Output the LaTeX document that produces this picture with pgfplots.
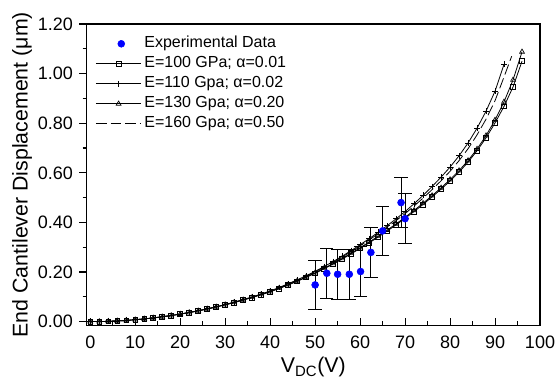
\documentclass[border=0pt]{standalone}
\usepackage{fontspec}
\setmainfont{Liberation Sans}
\usepackage{pgfplots}
\usepackage{pgfplotstable}
\pgfplotsset{compat=1.18}

\pgfplotstableread{
V S T
0 0 0
2 0.0003 0.0003
4 0.0012 0.0012
6 0.0027 0.0027
8 0.0048 0.0048
10 0.0075 0.0076
12 0.0108 0.0109
14 0.0147 0.0148
16 0.0192 0.0194
18 0.0243 0.0245
20 0.0300 0.0303
22 0.0363 0.0367
24 0.0432 0.0436
26 0.0507 0.0512
28 0.0588 0.0594
30 0.0675 0.0682
32 0.0768 0.0776
34 0.0867 0.0876
36 0.0972 0.0982
38 0.1083 0.1094
40 0.1200 0.1212
42 0.1334 0.1347
44 0.1475 0.1490
46 0.1625 0.1641
48 0.1783 0.1801
50 0.1950 0.1970
52 0.2131 0.2152
54 0.2321 0.2344
56 0.2521 0.2546
58 0.2732 0.2759
60 0.2952 0.2982
62 0.3175 0.3207
64 0.3408 0.3442
66 0.3650 0.3687
68 0.3903 0.3942
70 0.4165 0.4207
72 0.4440 0.4484
74 0.4725 0.4772
76 0.5030 0.5080
78 0.5340 0.5393
80 0.5670 0.5727
82 0.6030 0.6090
84 0.6430 0.6494
86 0.6890 0.6959
88 0.7410 0.7499
90 0.8010 0.8130
92 0.8680 0.8862
94 0.9460 0.9744
96 1.0500 1.0878
}\tabST

\pgfplotstableread{
V P
0 0
2 0.0003
4 0.0012
6 0.0028
8 0.0049
10 0.0077
12 0.0110
14 0.0150
16 0.0196
18 0.0248
20 0.0306
22 0.0370
24 0.0441
26 0.0517
28 0.0600
30 0.0689
32 0.0785
34 0.0888
36 0.0997
38 0.1113
40 0.1236
42 0.1377
44 0.1525
46 0.1684
48 0.1851
50 0.2028
52 0.2221
54 0.2423
56 0.2637
58 0.2863
60 0.3100
62 0.3343
64 0.3599
66 0.3865
68 0.4145
70 0.4436
72 0.4755
74 0.5089
76 0.5447
78 0.5826
80 0.6231
82 0.6687
84 0.7202
86 0.7799
88 0.8484
90 0.9292
92 1.0373
}\tabP

\pgfplotstableread{
V D
0 0
2 0.0003
4 0.0012
6 0.0027
8 0.0049
10 0.0076
12 0.0110
14 0.0149
16 0.0195
18 0.0246
20 0.0304
22 0.0368
24 0.0438
26 0.0514
28 0.0596
30 0.0685
32 0.0780
34 0.0882
36 0.0990
38 0.1104
40 0.1225
42 0.1364
44 0.1510
46 0.1666
48 0.1830
50 0.2005
52 0.2194
54 0.2392
56 0.2602
58 0.2824
60 0.3055
62 0.3293
64 0.3542
66 0.3801
68 0.4072
70 0.4355
72 0.4661
74 0.4980
76 0.5322
78 0.5679
80 0.6061
82 0.6491
84 0.6970
86 0.7529
88 0.8162
90 0.8907
92 0.9865
93.7 1.0700
}\tabD

\pgfplotstableread{
V Y E
50 0.148 0.10
52.6 0.195 0.10
55.0 0.191 0.10
57.6 0.191 0.10
60.1 0.202 0.10
62.4 0.279 0.10
65.0 0.366 0.10
69.1 0.480 0.10
70.0 0.415 0.10
}\tabE

\begin{document}
\begin{tikzpicture}
\begin{axis}[
  scale only axis, width=340pt, height=226pt,
  xmin=-0.8, xmax=100, ymin=-0.015, ymax=1.2,
  xtick={0,10,20,30,40,50,60,70,80,90,100}, minor x tick num=1,
  ytick={0,0.2,0.4,0.6,0.8,1.0,1.2}, minor y tick num=1,
  xtick pos=bottom, ytick pos=left,
  tick align=inside,
  major tick length=5.5pt, minor tick length=3pt,
  every major y tick/.append style={xshift=-5.5pt},
  every minor y tick/.append style={xshift=-3pt},
  tick style={black, line width=0.8pt},
  axis line style={line width=0.9pt},
  /pgf/number format/assume math mode=true,
  tick label style={font=\fontsize{13.5}{16}\selectfont},
  yticklabel style={/pgf/number format/.cd, fixed, fixed zerofill, precision=2, /tikz/.cd, xshift=-6.75pt},
  xticklabel style={yshift=-4.2pt},
  xlabel={V\textsubscript{DC}(V)},
  ylabel={End Cantilever Displacement (μm)},
  label style={font=\fontsize{16}{19}\selectfont},
  xlabel style={at={(axis description cs:0.5,-0.139)}, anchor=center},
  ylabel style={at={(axis description cs:-0.1426,0.5)}, anchor=center},
  legend style={draw=none, fill=none, inner sep=0pt,
    at={(axis description cs:0.019,0.964)}, anchor=north west,
    font=\fontsize{12}{14}\selectfont, row sep=2pt,
    nodes={inner xsep=2pt, inner ysep=0.5pt, text height=9pt, text depth=3pt}},
  legend cell align=left,
  legend image code/.code={\draw[mark repeat=2,mark phase=2] plot coordinates {(0pt,0pt)(17pt,0pt)(34pt,0pt)};},
]
\addlegendimage{only marks, mark=*, blue, mark size=2.6pt,
  legend image code/.code={\draw plot coordinates {(19pt,0pt)};}}
\addlegendentry{Experimental Data}

\addplot[black, line width=0.6pt, mark=square, mark size=1.8pt, mark options={solid, fill=white, line width=0.5pt}]
  table[x=V, y=S] {\tabST};
\addlegendentry{E=100 GPa; α=0.01}

\addplot[black, line width=0.6pt, mark=+, mark size=2.2pt, mark options={solid, line width=0.5pt}]
  table[x=V, y=P] {\tabP};
\addlegendentry{E=110 Gpa; α=0.02}

\addplot[black, line width=0.6pt, mark=triangle, mark size=2.1pt, mark options={solid, fill=white, line width=0.5pt}]
  table[x=V, y=T] {\tabST};
\addlegendentry{E=130 Gpa; α=0.20}

\addplot[black, line width=0.6pt, dash pattern=on 8pt off 3pt]
  table[x=V, y=D] {\tabD};
\addlegendentry{E=160 Gpa; α=0.50}

\addplot[forget plot, only marks, mark=*, blue, mark size=2.6pt,
  error bars/.cd, y dir=both, y explicit,
  error bar style={black, line width=0.7pt},
  error mark options={black, rotate=90, mark size=5pt, line width=0.7pt}]
  table[x=V, y=Y, y error=E] {\tabE};
\end{axis}
\pgfresetboundingbox
\path[use as bounding box] (-65pt,-45.75pt) rectangle (351.25pt,244pt);
\end{tikzpicture}
\end{document}
